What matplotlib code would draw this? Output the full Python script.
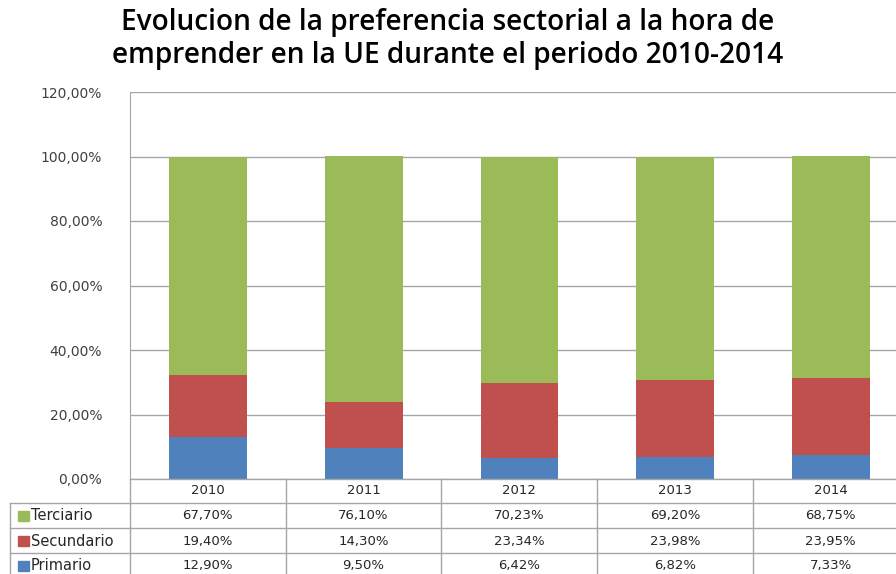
import matplotlib
matplotlib.use("Agg")
import matplotlib.pyplot as plt
from matplotlib.patches import Rectangle
import numpy as np

plt.rcParams["font.family"] = ["DejaVu Sans"]

years = ["2010", "2011", "2012", "2013", "2014"]
primario = [12.90, 9.50, 6.42, 6.82, 7.33]
secundario = [19.40, 14.30, 23.34, 23.98, 23.95]
terciario = [67.70, 76.10, 70.23, 69.20, 68.75]
yticks = [0, 20, 40, 60, 80, 100, 120]

series = [("Terciario", terciario, "#9BBB59"),
          ("Secundario", secundario, "#C0504D"),
          ("Primario", primario, "#4F81BD")]


def pct(v):
    return ("%.2f%%" % v).replace(".", ",")


fig = plt.figure(figsize=(8.96, 5.74), dpi=100)
# plot area runs past the right edge like the cropped original
ax = fig.add_axes([130 / 896, 1 - 479 / 574, 779 / 896, 387 / 574])

x = np.arange(len(years))
# 100% stacked: scale each column to a total of 100
total = np.array(primario) + np.array(secundario) + np.array(terciario)
bottom = np.zeros(len(years))
for name, vals, col in series[::-1]:
    h = np.array(vals) / total * 100
    ax.bar(x, h, 0.5, bottom=bottom, color=col, zorder=3)
    bottom += h

ax.set_xlim(-0.5, len(years) - 0.5)
ax.set_ylim(0, 120)
ax.set_yticks(yticks)
ax.set_yticklabels([pct(t) for t in yticks], fontsize=10, color="#404040")
ax.tick_params(axis="y", length=0, pad=20)
ax.set_xticks([])
ax.grid(axis="y", color="#A6A6A6", linewidth=1, zorder=0)
for s in ["top", "right", "bottom"]:
    ax.spines[s].set_visible(False)
ax.spines["left"].set_color("#A6A6A6")

# data table below the plot
fx = lambda px: px / 896
fy = lambda py: 1 - py / 574
line_kw = dict(color="#A6A6A6", linewidth=1, transform=fig.transFigure)
col_w = 155.7
x0 = 130
rows_y = [479, 503, 528, 553, 578]
fig.add_artist(plt.Line2D([fx(x0), 1], [fy(479)] * 2, **line_kw))
for ry in rows_y[1:]:
    fig.add_artist(plt.Line2D([fx(10), 1], [fy(ry)] * 2, **line_kw))
for i in range(len(years) + 1):
    xx = x0 + i * col_w
    fig.add_artist(plt.Line2D([fx(xx)] * 2, [fy(479), fy(580)], **line_kw))
fig.add_artist(plt.Line2D([fx(10)] * 2, [fy(503), fy(580)], **line_kw))

txt_kw = dict(fontsize=9.5, color="#262626", ha="center", va="center")
for i, yr in enumerate(years):
    cx = x0 + (i + 0.5) * col_w
    fig.text(fx(cx), fy(491), yr, **txt_kw)
    for r, (name, vals, col) in enumerate(series):
        fig.text(fx(cx), fy(516 + 25 * r), pct(vals[i]), **txt_kw)

for r, (name, vals, col) in enumerate(series):
    cy = 516 + 25 * r
    fig.add_artist(Rectangle((fx(18), fy(cy + 5)), 11 / 896, 10 / 574,
                             color=col, transform=fig.transFigure))
    fig.text(fx(31), fy(cy), name, fontsize=10.5, color="#262626",
             ha="left", va="center")

fig.text(0.5, fy(39), "Evolucion de la preferencia sectorial a la hora de\n"
         "emprender en la UE durante el periodo 2010-2014",
         ha="center", va="center", fontsize=20.2, fontweight="semibold",
         family="Open Sans", linespacing=1.2)

fig.savefig("out.png", dpi=100)
